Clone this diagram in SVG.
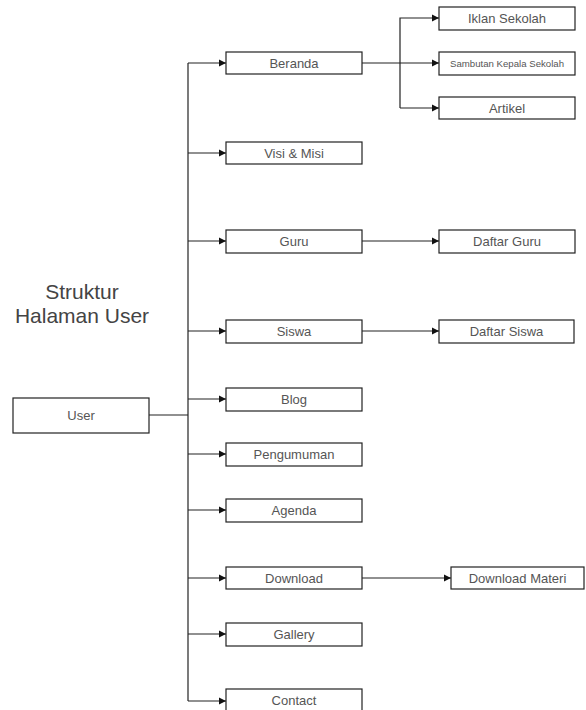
<svg xmlns="http://www.w3.org/2000/svg" width="586" height="710" viewBox="0 0 586 710">
<style>
.box{fill:#fff;stroke:#222;stroke-width:1.2}
.t{font-family:"Liberation Sans",Arial,sans-serif;font-size:13px;fill:#555;text-anchor:middle;dominant-baseline:central}
.s{font-size:8.5px}
.title{font-family:"Liberation Sans",Arial,sans-serif;font-size:21px;fill:#444;text-anchor:middle}
.c{fill:none;stroke:#222;stroke-width:1.2}
</style>
<defs>
<marker id="ah" markerWidth="8" markerHeight="8" refX="7" refY="4" orient="auto" markerUnits="userSpaceOnUse">
<path d="M0,0.5 L7,4 L0,7.5 Z" fill="#111"/>
</marker>
</defs>
<rect width="586" height="710" fill="#fff"/>
<text class="title" x="82" y="299">Struktur</text>
<text class="title" x="82" y="323">Halaman User</text>
<g id="connectors">
<path class="c" d="M149,415 H188"/>
<path class="c" d="M188,63 V701"/>
<path class="c" d="M188,63 H226" marker-end="url(#ah)"/>
<path class="c" d="M188,153 H226" marker-end="url(#ah)"/>
<path class="c" d="M188,241 H226" marker-end="url(#ah)"/>
<path class="c" d="M188,331 H226" marker-end="url(#ah)"/>
<path class="c" d="M188,399 H226" marker-end="url(#ah)"/>
<path class="c" d="M188,454 H226" marker-end="url(#ah)"/>
<path class="c" d="M188,510 H226" marker-end="url(#ah)"/>
<path class="c" d="M188,578 H226" marker-end="url(#ah)"/>
<path class="c" d="M188,634 H226" marker-end="url(#ah)"/>
<path class="c" d="M188,701 H226" marker-end="url(#ah)"/>
<path class="c" d="M362,63 H439" marker-end="url(#ah)"/>
<path class="c" d="M400,108 V18 H439" marker-end="url(#ah)"/>
<path class="c" d="M400,108 H439" marker-end="url(#ah)"/>
<path class="c" d="M362,241 H439" marker-end="url(#ah)"/>
<path class="c" d="M362,331 H439" marker-end="url(#ah)"/>
<path class="c" d="M362,578 H451" marker-end="url(#ah)"/>
</g>
<g id="user"><rect class="box" x="13" y="398" width="136" height="35"/><text class="t" x="81" y="415.5">User</text></g>
<g id="beranda"><rect class="box" x="226" y="52" width="136" height="22"/><text class="t" x="294" y="63">Beranda</text></g>
<g id="iklan"><rect class="box" x="439" y="7" width="136" height="23"/><text class="t" x="507" y="18.5">Iklan Sekolah</text></g>
<g id="sambutan"><rect class="box" x="439" y="52" width="136" height="23"/><text class="t s" x="507" y="63.5" textLength="114" lengthAdjust="spacingAndGlyphs">Sambutan Kepala Sekolah</text></g>
<g id="artikel"><rect class="box" x="439" y="97" width="136" height="22"/><text class="t" x="507" y="108">Artikel</text></g>
<g id="visi"><rect class="box" x="226" y="142" width="136" height="22"/><text class="t" x="294" y="153">Visi &amp; Misi</text></g>
<g id="guru"><rect class="box" x="226" y="230" width="136" height="23"/><text class="t" x="294" y="241.5">Guru</text></g>
<g id="daftar-guru"><rect class="box" x="439" y="230" width="136" height="23"/><text class="t" x="507" y="241.5">Daftar Guru</text></g>
<g id="siswa"><rect class="box" x="226" y="320" width="136" height="23"/><text class="t" x="294" y="331.5">Siswa</text></g>
<g id="daftar-siswa"><rect class="box" x="439" y="320" width="135" height="23"/><text class="t" x="506.5" y="331.5">Daftar Siswa</text></g>
<g id="blog"><rect class="box" x="226" y="388" width="136" height="23"/><text class="t" x="294" y="399.5">Blog</text></g>
<g id="pengumuman"><rect class="box" x="226" y="443" width="136" height="23"/><text class="t" x="294" y="454.5">Pengumuman</text></g>
<g id="agenda"><rect class="box" x="226" y="499" width="136" height="23"/><text class="t" x="294" y="510.5">Agenda</text></g>
<g id="download"><rect class="box" x="226" y="567" width="136" height="22"/><text class="t" x="294" y="578">Download</text></g>
<g id="download-materi"><rect class="box" x="451" y="567" width="133" height="22"/><text class="t" x="517.5" y="578">Download Materi</text></g>
<g id="gallery"><rect class="box" x="226" y="623" width="136" height="23"/><text class="t" x="294" y="634.5">Gallery</text></g>
<g id="contact"><rect class="box" x="226" y="689" width="136" height="23"/><text class="t" x="294" y="700.5">Contact</text></g>
</svg>
